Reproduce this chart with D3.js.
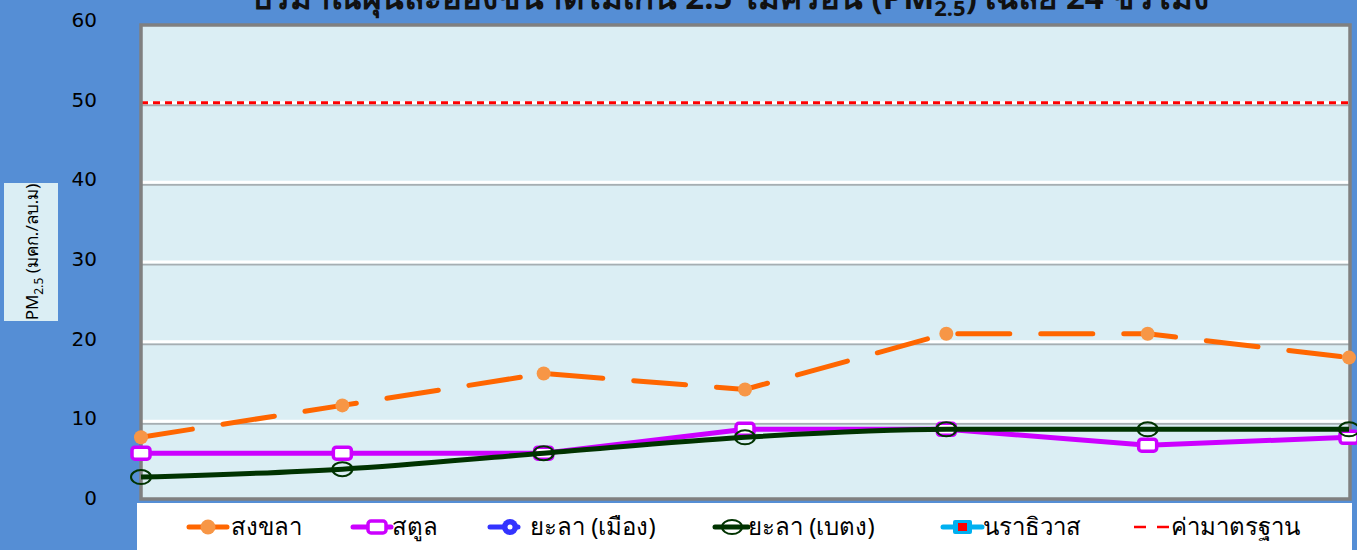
<!DOCTYPE html>
<html>
<head>
<meta charset="utf-8">
<script src="https://cdn.jsdelivr.net/npm/d3@7"></script>
<style>
  body { margin: 0; background: #558ED5; }
  svg { display: block; }
</style>
</head>
<body>
<svg></svg>
<script>
// Data
var days = [1, 2, 3, 4, 5, 6, 7];
var songkhla = [8, 12, 16, 14, 21, 21, 18];
var satun = [6, 6, 6, 9, 9, 7, 8];
var yalaBetong = [3, 4, 6, 8, 9, 9, 9];
var standard = 50;
var yTicks = [0, 10, 20, 30, 40, 50, 60];
var legendNames = ['สงขลา', 'สตูล', 'ยะลา (เมือง)', 'ยะลา (เบตง)', 'นราธิวาส', 'ค่ามาตรฐาน'];

var width = 1357;
var height = 550;
var font = "Tahoma, 'Noto Sans', 'DejaVu Sans', sans-serif";

var svg = d3.select('svg')
  .attr('width', width)
  .attr('height', height)
  .style('font-family', font);

svg.append('rect')
  .attr('width', width)
  .attr('height', height)
  .attr('fill', '#558ED5');

var x = d3.scalePoint()
  .domain(days)
  .range([141, 1349]);

var y = d3.scaleLinear()
  .domain([0, 60])
  .range([501, 23]);

// Plot area
svg.append('rect')
  .attr('x', 141)
  .attr('y', 25)
  .attr('width', 1209)
  .attr('height', 474)
  .attr('fill', '#DBEEF4');

// Gridlines (white with a grey shadow)
var gridTicks = yTicks.filter(function (d) { return d > 0 && d < 60; });
var grid = svg.append('g');
grid.selectAll('.shadow')
  .data(gridTicks)
  .enter().append('line')
    .attr('class', 'shadow')
    .attr('x1', 141).attr('x2', 1350)
    .attr('y1', function (d) { return y(d) + 2.5; })
    .attr('y2', function (d) { return y(d) + 2.5; })
    .attr('stroke', '#A6AEB2')
    .attr('stroke-width', 2);
grid.selectAll('.white')
  .data(gridTicks)
  .enter().append('line')
    .attr('class', 'white')
    .attr('x1', 141).attr('x2', 1350)
    .attr('y1', function (d) { return y(d); })
    .attr('y2', function (d) { return y(d); })
    .attr('stroke', '#FFFFFF')
    .attr('stroke-width', 3);

// Standard line
svg.append('line')
  .attr('x1', 141).attr('x2', 1350)
  .attr('y1', y(standard)).attr('y2', y(standard))
  .attr('stroke', '#FF0000')
  .attr('stroke-width', 3)
  .attr('stroke-dasharray', '7,5');

// Plot border
svg.append('rect')
  .attr('x', 141)
  .attr('y', 25)
  .attr('width', 1209)
  .attr('height', 474)
  .attr('fill', 'none')
  .attr('stroke', '#808080')
  .attr('stroke-width', 3.5);

// Y axis labels
var yAxis = d3.axisLeft(y)
  .tickValues(yTicks)
  .tickSize(0)
  .tickPadding(0);
var yg = svg.append('g')
  .attr('transform', 'translate(97,-3)')
  .call(yAxis);
yg.select('.domain').remove();
yg.selectAll('text')
  .attr('font-family', "'DejaVu Sans', Verdana, sans-serif")
  .attr('font-size', 20)
  .attr('fill', '#000');

// Y axis title
svg.append('rect')
  .attr('x', 4)
  .attr('y', 183)
  .attr('width', 54)
  .attr('height', 138)
  .attr('fill', '#DBEEF4');
var yTitle = svg.append('text')
  .attr('transform', 'translate(38,' + 252 + ')rotate(-90)')
  .attr('text-anchor', 'middle')
  .attr('font-size', 17)
  .attr('fill', '#000');
yTitle.append('tspan').text('PM');
yTitle.append('tspan').attr('font-size', 12).attr('dy', 5).text('2.5');
yTitle.append('tspan').attr('dy', -5).text(' (มคก./ลบ.ม)');

// Title (clipped at the top edge, as in the source)
var title = svg.append('text')
  .attr('x', 730)
  .attr('y', 9)
  .attr('text-anchor', 'middle')
  .attr('font-size', 33)
  .attr('font-weight', 'bold')
  .attr('fill', '#111');
title.append('tspan').text('ปริมาณฝุ่นละอองขนาดไม่เกิน 2.5 ไมครอน (PM');
title.append('tspan').attr('font-size', 22).attr('dy', 7).text('2.5');
title.append('tspan').attr('dy', -7).text(') เฉลี่ย 24 ชั่วโมง');

// Lines
var smooth = d3.line()
  .x(function (d, i) { return x(days[i]); })
  .y(function (d) { return y(d); })
  .curve(d3.curveMonotoneX);
var straight = d3.line()
  .x(function (d, i) { return x(days[i]); })
  .y(function (d) { return y(d); });

svg.append('path')
  .datum(songkhla)
  .attr('d', straight)
  .attr('fill', 'none')
  .attr('stroke', '#FF6600')
  .attr('stroke-width', 5)
  .attr('stroke-linecap', 'round')
  .attr('stroke-dasharray', '52,31');

svg.selectAll('.songkhla')
  .data(songkhla)
  .enter().append('circle')
    .attr('class', 'songkhla')
    .attr('cx', function (d, i) { return x(days[i]); })
    .attr('cy', function (d) { return y(d); })
    .attr('r', 7)
    .attr('fill', '#F79646');

svg.append('path')
  .datum(satun)
  .attr('d', straight)
  .attr('fill', 'none')
  .attr('stroke', '#CC00FF')
  .attr('stroke-width', 5);

svg.selectAll('.satun')
  .data(satun)
  .enter().append('rect')
    .attr('class', 'satun')
    .attr('x', function (d, i) { return x(days[i]) - 9; })
    .attr('y', function (d) { return y(d) - 6; })
    .attr('width', 18)
    .attr('height', 12)
    .attr('rx', 3)
    .attr('fill', '#FFFFFF')
    .attr('stroke', '#CC00FF')
    .attr('stroke-width', 3.5);

svg.append('path')
  .datum(yalaBetong)
  .attr('d', smooth)
  .attr('fill', 'none')
  .attr('stroke', '#003300')
  .attr('stroke-width', 5);

svg.selectAll('.betong')
  .data(yalaBetong)
  .enter().append('ellipse')
    .attr('class', 'betong')
    .attr('cx', function (d, i) { return x(days[i]); })
    .attr('cy', function (d) { return y(d); })
    .attr('rx', 10)
    .attr('ry', 7)
    .attr('fill', 'none')
    .attr('stroke', '#003300')
    .attr('stroke-width', 2);

// Legend
svg.append('rect')
  .attr('x', 137)
  .attr('y', 503)
  .attr('width', 1215)
  .attr('height', 47)
  .attr('fill', '#FFFFFF');

var legendX = [189, 353, 490, 715, 943, 1134];
var lineLen = [38, 38, 28, 33, 39, 35];
var textX = [42, 39, 40, 33, 40, 37];
var legendColors = ['#FF6600', '#CC00FF', '#3333FF', '#003300', '#00B0F0', '#FF0000'];
var ly = 527;

var legend = svg.selectAll('.legend')
  .data(legendNames)
  .enter().append('g')
    .attr('class', 'legend')
    .attr('transform', function (d, i) { return 'translate(' + legendX[i] + ',' + ly + ')'; });

legend.append('line')
  .attr('x1', 0)
  .attr('x2', function (d, i) { return lineLen[i]; })
  .attr('stroke', function (d, i) { return legendColors[i]; })
  .attr('stroke-width', function (d, i) { return i === 5 ? 2.5 : 5; })
  .attr('stroke-linecap', function (d, i) { return i === 5 ? 'butt' : 'round'; })
  .attr('stroke-dasharray', function (d, i) { return i === 5 ? '12,11' : null; });

legend.append('text')
  .attr('x', function (d, i) { return textX[i]; })
  .attr('y', 8)
  .attr('font-size', 24)
  .attr('fill', '#000')
  .text(function (d) { return d; });

// Legend markers
var lm = legend.filter(function (d, i) { return i === 0; });
lm.append('circle').attr('cx', 19).attr('r', 7.5).attr('fill', '#F79646');
lm = legend.filter(function (d, i) { return i === 1; });
lm.append('rect').attr('x', 15).attr('y', -6).attr('width', 18).attr('height', 12).attr('rx', 3)
  .attr('fill', '#FFFFFF').attr('stroke', '#CC00FF').attr('stroke-width', 3.5);
lm = legend.filter(function (d, i) { return i === 2; });
lm.append('circle').attr('cx', 20).attr('r', 8).attr('fill', '#3333FF');
lm.append('circle').attr('cx', 20).attr('r', 2.5).attr('fill', '#FFFFFF');
lm = legend.filter(function (d, i) { return i === 3; });
lm.append('ellipse').attr('cx', 17).attr('rx', 10).attr('ry', 7)
  .attr('fill', 'none').attr('stroke', '#003300').attr('stroke-width', 2);
lm = legend.filter(function (d, i) { return i === 4; });
lm.append('rect').attr('x', 10).attr('y', -7).attr('width', 19).attr('height', 14).attr('rx', 2)
  .attr('fill', '#00B0F0');
lm.append('rect').attr('x', 15).attr('y', -4).attr('width', 9).attr('height', 8)
  .attr('fill', '#FF0000');
</script>
</body>
</html>
